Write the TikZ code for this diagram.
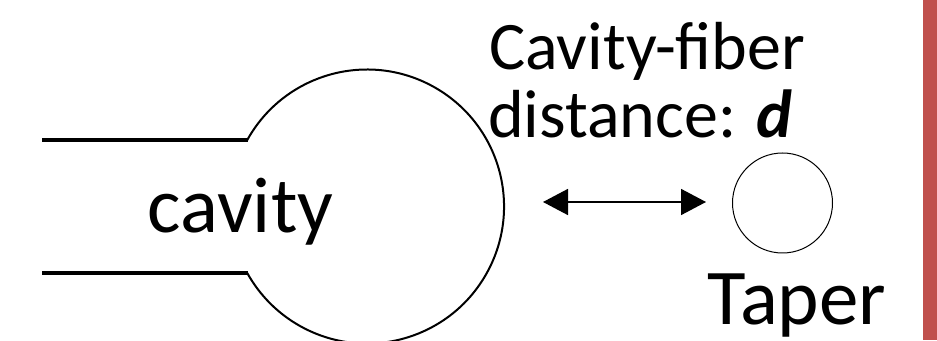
\documentclass[tikz,border=0pt]{standalone}
\usepackage{fontspec}
\setmainfont{Carlito}
\usetikzlibrary{arrows.meta}
\definecolor{barred}{HTML}{C0504D}
\begin{document}
\begin{tikzpicture}[x=1pt,y=1pt,
  bigtxt/.style={inner sep=0pt,font=\fontsize{79}{90}\selectfont},
  midtxt/.style={inner sep=0pt,font=\fontsize{68}{80}\selectfont},
  cavline/.style={line width=3.5pt},
  cavarc/.style={line width=2pt},
  distarrow/.style={line width=1.6pt,{Triangle[length=25pt,width=26pt]}-{Triangle[length=25pt,width=26pt]}},
  taperc/.style={circle,draw,line width=1pt,minimum size=100pt,inner sep=0pt}]
\useasboundingbox (0,0) rectangle (937,340);
\fill[barred] (923,0) rectangle (937,340);
% cavity outline
\draw[cavline] (42,200) -- (248,200);
\draw[cavline] (42,67) -- (248,67);
\draw[cavarc] (247.2,199.9) arc[start angle=151,end angle=-151,radius=137pt];
\node[bigtxt,anchor=base] (cav) at (240.5,107) {cavity};
% taper
\node[taperc] (taper) at (782.5,137) {};
\node[bigtxt,anchor=base] (tlab) at (797,16) {Taper};
% arrow
\coordinate (aL) at (543,138);
\coordinate (aR) at (706,138);
\draw[distarrow] (aL) -- (aR);
% label
\node[midtxt,anchor=base west] (l1) at (489,270) {Cavity-fiber};
\node[midtxt,anchor=base west] (l2) at (488,202) {distance: \textbf{\textit{d}}};
\end{tikzpicture}
\end{document}
